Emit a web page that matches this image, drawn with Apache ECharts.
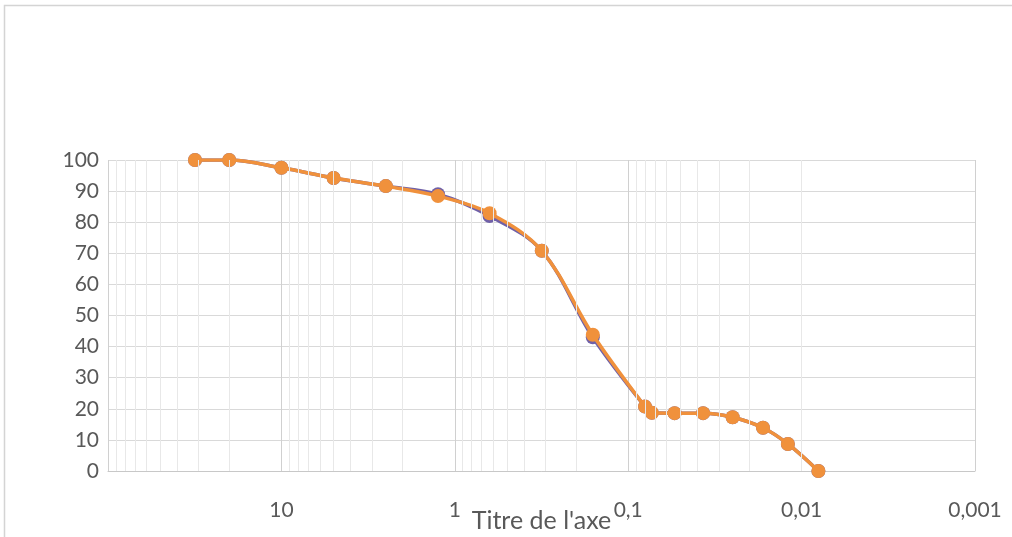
<!DOCTYPE html>
<html>
<head>
<meta charset="utf-8">
<script src="https://cdn.jsdelivr.net/npm/echarts@6/dist/echarts.min.js"></script>
<style>
  html, body { margin: 0; padding: 0; background: #fff; overflow: hidden; }
  #chart { width: 1012px; height: 537px; }
</style>
</head>
<body>
<div id="chart"></div>
<script>
// Particle size (mm) for each measured point, coarse to fine
const sizes = [31.5, 20, 10, 5, 2.5, 1.25, 0.63, 0.315, 0.16, 0.08, 0.073, 0.054, 0.037, 0.025, 0.0167, 0.012, 0.008];
// Cumulative percentage passing, two series
const passingA = [100, 100, 97.5, 94.2, 91.6, 89, 82, 70.8, 43, 20.7, 18.7, 18.6, 18.6, 17.3, 13.9, 8.7, 0];
const passingB = [100, 100, 97.5, 94.2, 91.6, 88.4, 82.9, 70.8, 43.8, 20.7, 18.7, 18.6, 18.6, 17.3, 13.9, 8.7, 0];

// Decade ticks on the size axis and their labels
const xTickValues = [100, 10, 1, 0.1, 0.01, 0.001];
const xTickLabels = ['', '10', '1', '0,1', '0,01', '0,001'];

// Minor grid lines inside each decade (2..9 × 10^k)
const minorGrid = [];
[10, 1, 0.1, 0.01, 0.001].forEach(function (d) {
  for (let m = 2; m <= 9; m++) minorGrid.push(+(m * d).toPrecision(6));
});

const toPairs = function (ys) { return sizes.map(function (x, i) { return [x, ys[i]]; }); };

const FONT = 'Lato, "Open Sans", sans-serif';
const chart = echarts.init(document.getElementById('chart'), null, { renderer: 'canvas' });

chart.setOption({
  animation: false,
  backgroundColor: '#ffffff',
  graphic: [{
    type: 'rect',
    shape: { x: 4.5, y: 5.5, width: 1040, height: 600 },
    style: { fill: 'none', stroke: '#d4d4d4', lineWidth: 1.5 },
    silent: true,
    z: -10
  }],
  grid: { left: 108, right: 37, top: 160, bottom: 66, containLabel: false, outerBoundsMode: 'none' },
  xAxis: {
    type: 'log',
    logBase: 10,
    min: 0.001,
    max: 100,
    inverse: true,
    name: "Titre de l'axe",
    nameLocation: 'middle',
    nameGap: 37,
    nameMoveOverlap: false,
    nameTextStyle: { color: '#595959', fontSize: 25, fontFamily: FONT },
    axisLine: { show: true, lineStyle: { color: '#c8c8c8', width: 1 } },
    axisTick: { show: false },
    axisLabel: {
      margin: 29,
      color: '#595959',
      fontSize: 21,
      fontFamily: FONT,
      formatter: function (v) {
        let best = 0, bd = Infinity;
        xTickValues.forEach(function (t, i) {
          const d = Math.abs(Math.log10(t) - Math.log10(v));
          if (d < bd) { bd = d; best = i; }
        });
        return xTickLabels[best];
      }
    },
    splitLine: { show: true, lineStyle: { color: '#d0d0d0', width: 1 } }
  },
  yAxis: {
    type: 'value',
    min: 0,
    max: 100,
    interval: 10,
    axisLine: { show: false },
    axisTick: { show: false },
    axisLabel: { margin: 9, color: '#595959', fontSize: 21, fontFamily: FONT },
    splitLine: { show: true, lineStyle: { color: '#d9d9d9', width: 1 } }
  },
  series: [
    {
      type: 'line',
      name: 'grid',
      data: [],
      silent: true,
      z: 1,
      markLine: {
        silent: true,
        symbol: ['none', 'none'],
        label: { show: false },
        lineStyle: { type: 'solid', color: '#e8e8e8', width: 1 },
        emphasis: { disabled: true },
        data: minorGrid.map(function (v) { return { xAxis: v }; })
      }
    },
    {
      type: 'line',
      name: 'Série 1',
      data: toPairs(passingA),
      smooth: 0.35,
      symbol: 'circle',
      symbolSize: 14,
      z: 3,
      lineStyle: { color: '#6f60a8', width: 3.5 },
      itemStyle: { color: '#6f60a8' }
    },
    {
      type: 'line',
      name: 'Série 2',
      data: toPairs(passingB),
      smooth: 0.35,
      symbol: 'circle',
      symbolSize: 14,
      z: 4,
      lineStyle: { color: '#f0913c', width: 3.5 },
      itemStyle: { color: '#f0913c' }
    }
  ]
});
</script>
</body>
</html>
